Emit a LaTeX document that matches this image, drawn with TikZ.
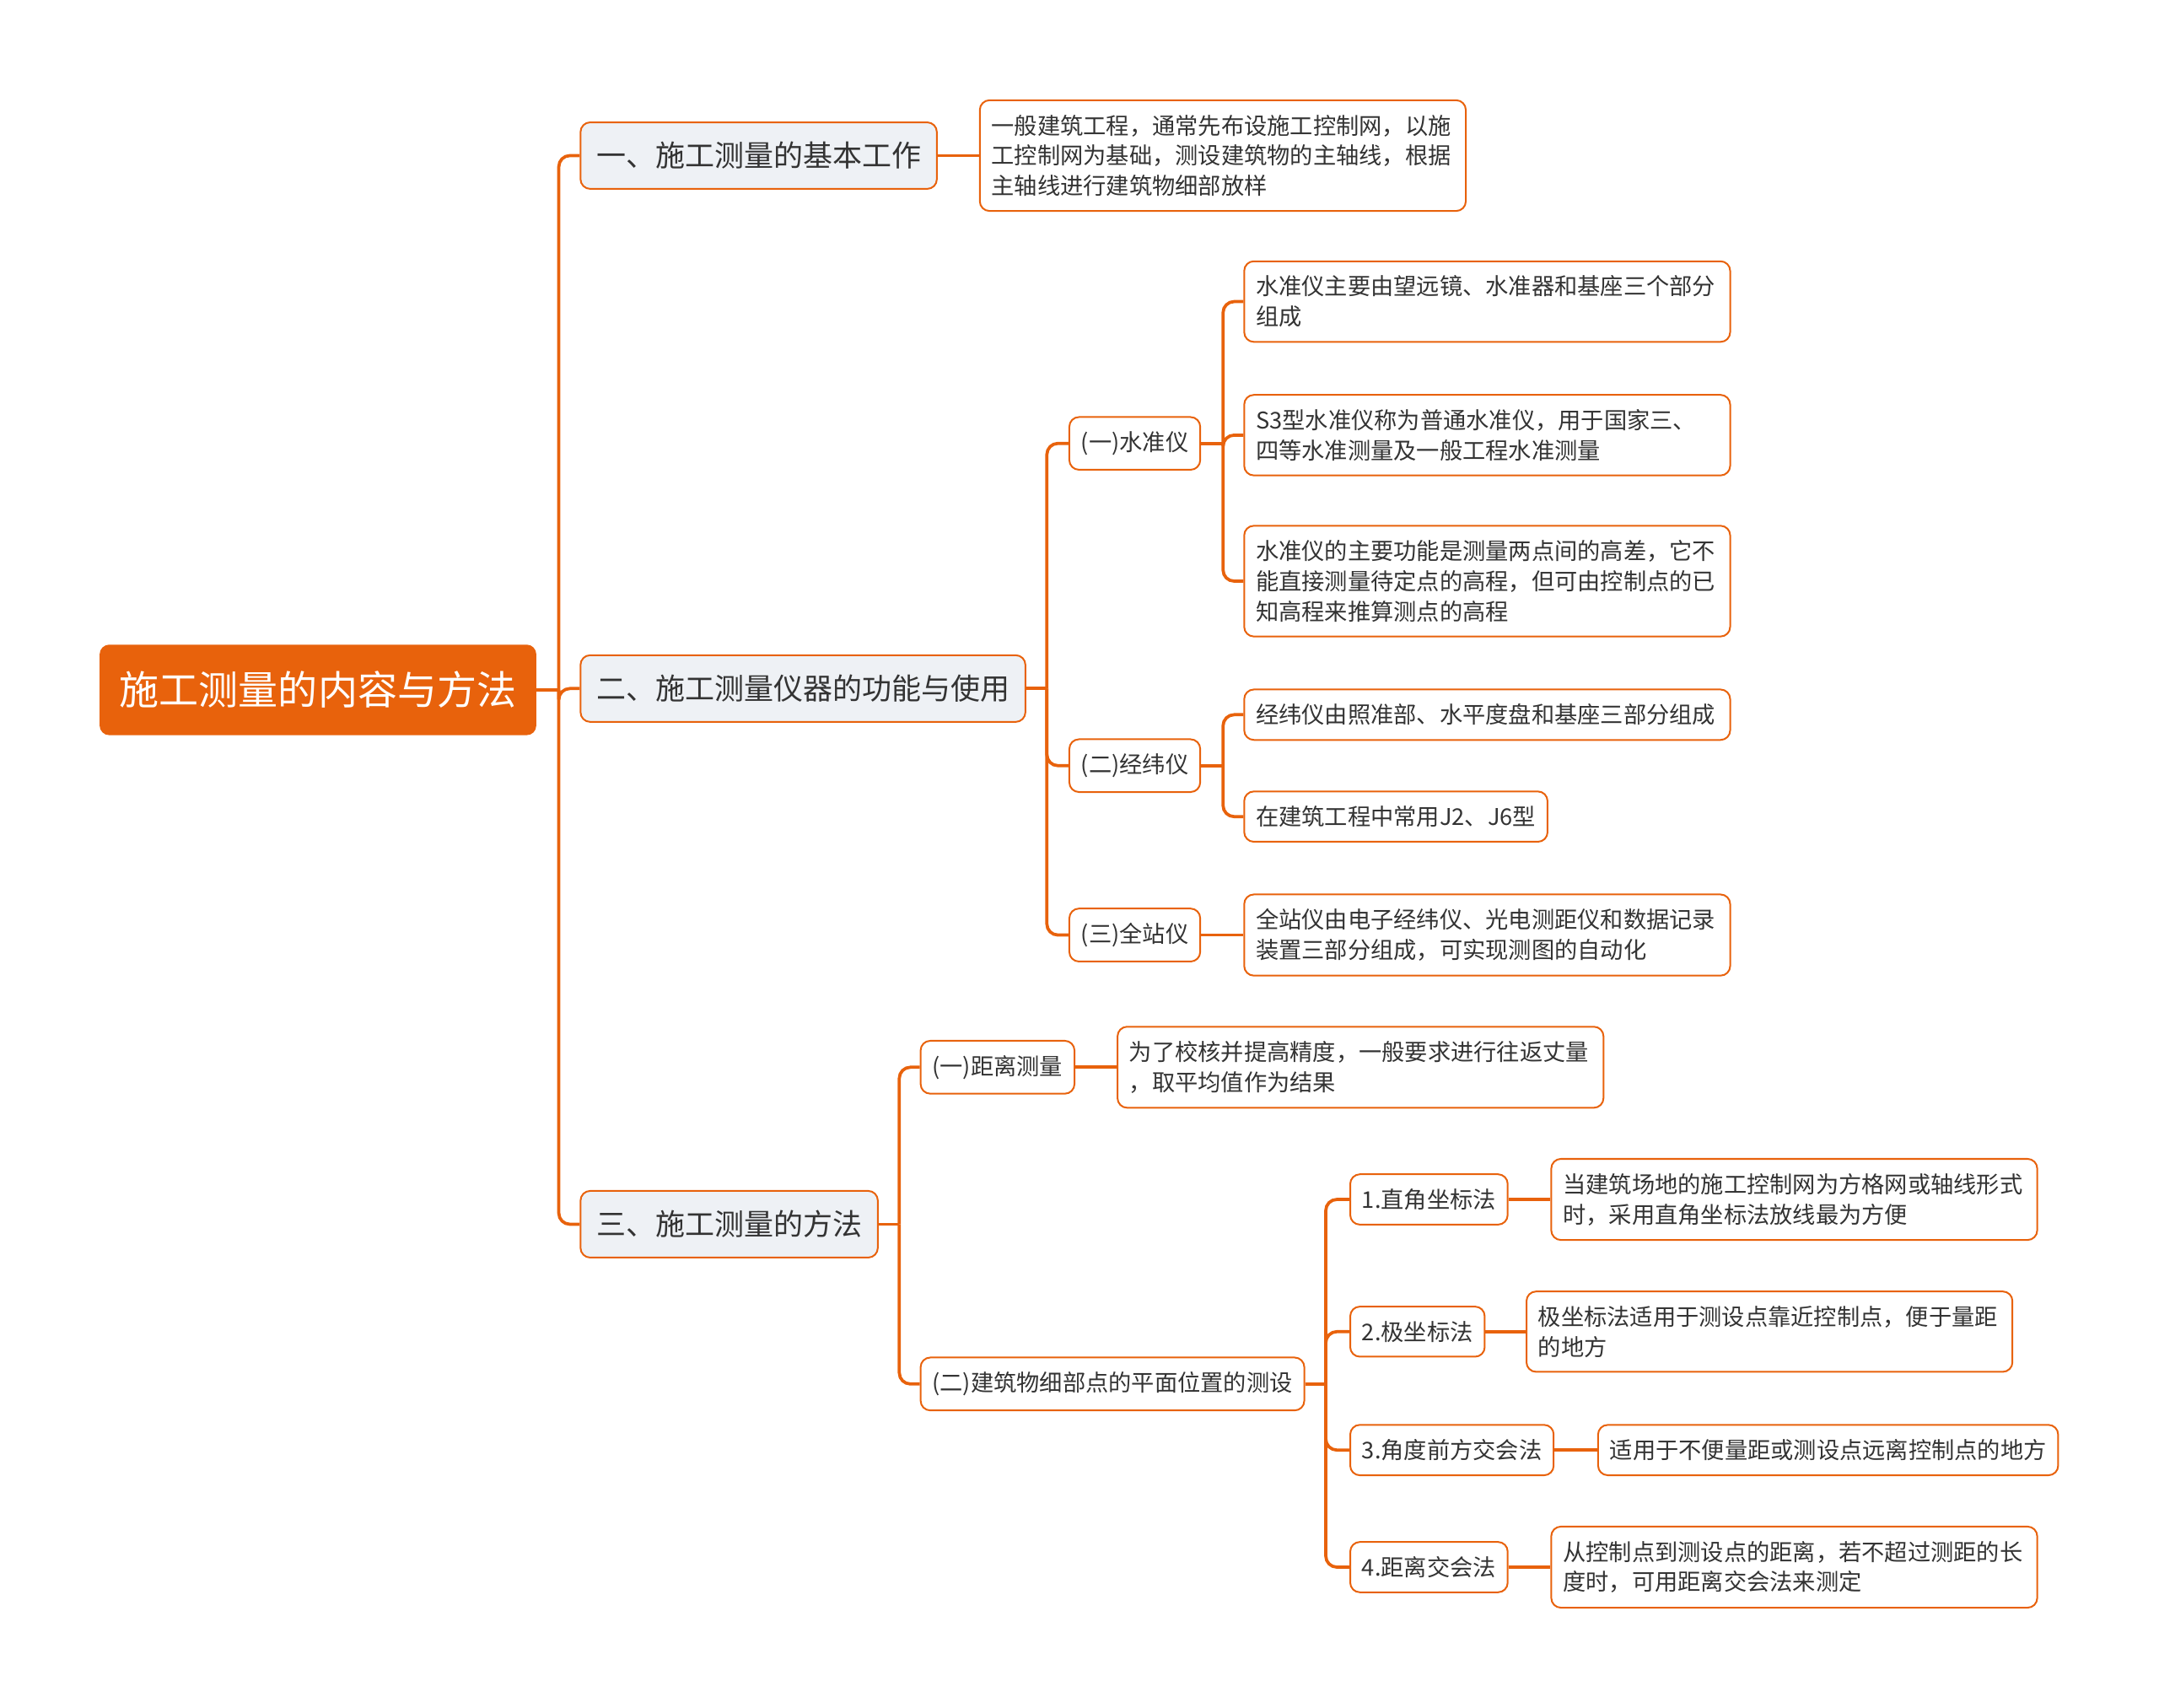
\documentclass[tikz,border=0pt]{standalone}
\usepackage{fontspec}
\setmainfont{Noto Sans CJK SC}
\definecolor{mmorange}{HTML}{E8620C}
\definecolor{mmgray}{HTML}{EEF1F5}
\definecolor{mmtext}{HTML}{333333}
\tikzstyle{root}=[rectangle, rounded corners=0.14cm, fill=mmorange, text=white,
  font=\fontsize{16.4pt}{20pt}\selectfont, inner xsep=0.29cm, inner ysep=0.39cm, anchor=west]
\tikzstyle{topic}=[rectangle, rounded corners=0.14cm, draw=mmorange, line width=0.7pt,
  fill=mmgray, text=mmtext, font=\fontsize{12.2pt}{15pt}\selectfont,
  inner xsep=0.23cm, inner ysep=0.285cm, anchor=west]
\tikzstyle{sub}=[rectangle, rounded corners=0.14cm, draw=mmorange, line width=0.7pt,
  fill=white, text=mmtext, font=\fontsize{9.5pt}{12.5pt}\selectfont,
  inner xsep=0.17cm, inner ysep=0.21cm, anchor=west, align=left]
\tikzstyle{leaf}=[sub]
\tikzstyle{wide}=[sub, text width=6.72cm]
\tikzstyle{link}=[draw=mmorange, line width=1.3pt, rounded corners=0.16cm]

\begin{document}
\begin{tikzpicture}[x=0.02cm, y=-0.02cm]
\useasboundingbox (0,0) rectangle (1568,1240);

\node[root] (root) at (72,501) {施工测量的内容与方法};

\node[topic] (basic) at (421,113) {一、施工测量的基本工作};
\node[topic] (instr) at (421,500) {二、施工测量仪器的功能与使用};
\node[topic] (method) at (421,889) {三、施工测量的方法};

% 一
\node[wide] (basicnote) at (711,113) {一般建筑工程，通常先布设施工控制网，以施\\工控制网为基础，测设建筑物的主轴线，根据\\主轴线进行建筑物细部放样};

% 二
\node[sub] (level) at (776,322) {(一)水准仪};
\node[sub] (theo) at (776,556) {(二)经纬仪};
\node[sub] (total) at (776,679) {(三)全站仪};

\node[wide] (levela) at (903,219) {水准仪主要由望远镜、水准器和基座三个部分\\组成};
\node[wide] (levelb) at (903,316) {S3型水准仪称为普通水准仪，用于国家三、\\四等水准测量及一般工程水准测量};
\node[wide] (levelc) at (903,422) {水准仪的主要功能是测量两点间的高差，它不\\能直接测量待定点的高程，但可由控制点的已\\知高程来推算测点的高程};
\node[wide] (theoa) at (903,519) {经纬仪由照准部、水平度盘和基座三部分组成};
\node[leaf] (theob) at (903,593) {在建筑工程中常用J2、J6型};
\node[wide] (totala) at (903,679) {全站仪由电子经纬仪、光电测距仪和数据记录\\装置三部分组成，可实现测图的自动化};

% 三
\node[sub] (dist) at (668,775) {(一)距离测量};
\node[sub] (detail) at (668,1005) {(二)建筑物细部点的平面位置的测设};
\node[wide] (dista) at (811,775) {为了校核并提高精度，一般要求进行往返丈量\\，取平均值作为结果};

\node[sub] (rect) at (980,871) {1.直角坐标法};
\node[sub] (polar) at (980,967) {2.极坐标法};
\node[sub] (angle) at (980,1053) {3.角度前方交会法};
\node[sub] (range) at (980,1138) {4.距离交会法};

\node[wide] (recta) at (1126,871) {当建筑场地的施工控制网为方格网或轴线形式\\时，采用直角坐标法放线最为方便};
\node[wide] (polara) at (1108,967) {极坐标法适用于测设点靠近控制点，便于量距\\的地方};
\node[leaf] (anglea) at (1160,1053) {适用于不便量距或测设点远离控制点的地方};
\node[wide] (rangea) at (1126,1138) {从控制点到测设点的距离，若不超过测距的长\\度时，可用距离交会法来测定};

% connectors
\coordinate (jroot) at ([xshift=0.32cm]root.east);
\draw[link] (root.east) -- (jroot);
\foreach \n in {basic,instr,method} \draw[link] (jroot) |- (\n.west);

\draw[link] (basic.east) -- (basicnote.west);

\coordinate (jinstr) at ([xshift=0.3cm]instr.east);
\draw[link] (instr.east) -- (jinstr);
\foreach \n in {level,theo,total} \draw[link] (jinstr) |- (\n.west);

\coordinate (jlevel) at ([xshift=0.32cm]level.east);
\draw[link] (level.east) -- (jlevel);
\foreach \n in {levela,levelb,levelc} \draw[link] (jlevel) |- (\n.west);

\coordinate (jtheo) at ([xshift=0.32cm]theo.east);
\draw[link] (theo.east) -- (jtheo);
\foreach \n in {theoa,theob} \draw[link] (jtheo) |- (\n.west);

\draw[link] (total.east) -- (totala.west);

\coordinate (jmethod) at ([xshift=0.3cm]method.east);
\draw[link] (method.east) -- (jmethod);
\foreach \n in {dist,detail} \draw[link] (jmethod) |- (\n.west);

\draw[link] (dist.east) -- (dista.west);

\coordinate (jdetail) at ([xshift=0.3cm]detail.east);
\draw[link] (detail.east) -- (jdetail);
\foreach \n in {rect,polar,angle,range} \draw[link] (jdetail) |- (\n.west);

\draw[link] (rect.east) -- (recta.west);
\draw[link] (polar.east) -- (polara.west);
\draw[link] (angle.east) -- (anglea.west);
\draw[link] (range.east) -- (rangea.west);

\end{tikzpicture}
\end{document}
